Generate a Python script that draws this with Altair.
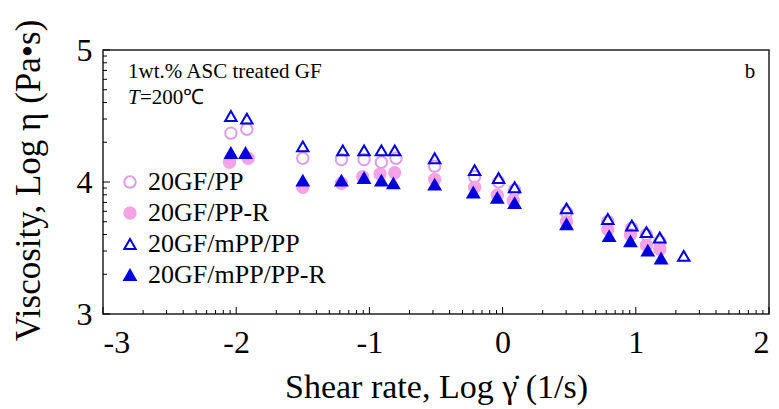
import altair as alt
import pandas as pd
import numpy as np

series_names = ["20GF/PP", "20GF/PP-R", "20GF/mPP/PP", "20GF/mPP/PP-R"]

pp_x = [-2.04, -1.92, -1.50, -1.21, -1.04, -0.91, -0.80, -0.51, -0.21, -0.03, 0.09, 0.48, 0.79, 0.97, 1.08, 1.18]
pp_y = [4.37, 4.40, 4.18, 4.17, 4.17, 4.15, 4.18, 4.12, 4.04, 4.00, 3.94, 3.77, 3.70, 3.65, 3.60, 3.55]

ppr_x = [-2.05, -1.91, -1.50, -1.21, -1.05, -0.92, -0.81, -0.51, -0.21, -0.04, 0.08, 0.48, 0.79, 0.96, 1.08, 1.18]
ppr_y = [4.15, 4.18, 3.96, 3.99, 4.04, 4.06, 4.07, 4.02, 3.96, 3.90, 3.86, 3.70, 3.64, 3.60, 3.52, 3.49]

mpp_x = [-2.04, -1.92, -1.50, -1.20, -1.04, -0.91, -0.81, -0.51, -0.21, -0.03, 0.09, 0.48, 0.79, 0.97, 1.08, 1.18, 1.36]
mpp_y = [4.50, 4.48, 4.27, 4.24, 4.24, 4.24, 4.24, 4.18, 4.09, 4.03, 3.96, 3.80, 3.72, 3.67, 3.62, 3.58, 3.44]

mppr_x = [-2.04, -1.93, -1.50, -1.21, -1.04, -0.91, -0.82, -0.51, -0.22, -0.04, 0.09, 0.48, 0.80, 0.96, 1.09, 1.19]
mppr_y = [4.22, 4.22, 4.01, 4.01, 4.03, 4.01, 3.99, 3.98, 3.92, 3.88, 3.84, 3.68, 3.59, 3.55, 3.48, 3.42]

x_major = [-3, -2, -1, 0, 1, 2]
y_major = [3, 4, 5]
x_minor = [d + np.log10(k) for d in range(-3, 2) for k in range(2, 10)]
y_minor = [d + np.log10(k) for d in range(3, 5) for k in range(2, 10)]

W, H = 666, 264

rows = []
for name, xs, ys in zip(series_names, [pp_x, ppr_x, mpp_x, mppr_x], [pp_y, ppr_y, mpp_y, mppr_y]):
    for a, b in zip(xs, ys):
        rows.append({"series": name, "rate": a, "visc": b})
df = pd.DataFrame(rows)

xscale = alt.Scale(domain=[-3, 2], nice=False, zero=False)
yscale = alt.Scale(domain=[3, 5], nice=False, zero=False)

FONT = "Liberation Serif"

xaxis = alt.Axis(
    values=x_major, labelExpr="'' + datum.value", title="Shear rate, Log γ̇ (1/s)",
    labelPadding=13, titleX=W / 2, titleY=73, titleBaseline="middle", titleAlign="center",
    titleFontSize=34,
)
yaxis = alt.Axis(
    values=y_major, labelExpr="'' + datum.value", title="Viscosity, Log η (Pa•s)",
    labelPadding=11, titleX=-75, titleY=H / 2 - 2, titleBaseline="middle", titleAlign="center",
    titleFontSize=35,
)

legend = alt.Legend(
    title=None, orient="none", legendX=14, legendY=119, padding=0,
    labelFont=FONT, labelFontSize=26, labelColor="black", labelLimit=500,
    symbolSize=130, symbolStrokeWidth=2, rowPadding=5, labelOffset=5,
)

stroke_cols = ["#dc9fe6", "#f4a3e6", "#0000dd", "#0000dd"]
fill_cols = ["rgba(0,0,0,0)", "#f4a3e6", "rgba(0,0,0,0)", "#0000dd"]
shapes = ["circle", "circle", "triangle-up", "triangle-up"]

points = alt.Chart(df).mark_point(opacity=1, strokeWidth=2, size=130).encode(
    x=alt.X("rate:Q", scale=xscale, axis=xaxis),
    y=alt.Y("visc:Q", scale=yscale, axis=yaxis),
    shape=alt.Shape("series:N", scale=alt.Scale(domain=series_names, range=shapes), legend=legend),
    stroke=alt.Stroke("series:N", scale=alt.Scale(domain=series_names, range=stroke_cols), legend=legend),
    fill=alt.Fill("series:N", scale=alt.Scale(domain=series_names, range=fill_cols), legend=legend),
)

def xticks(vals, length):
    return alt.Chart(pd.DataFrame({"rate": vals})).mark_rule(color="black", strokeWidth=1).encode(
        x=alt.X("rate:Q", scale=xscale, axis=xaxis), y=alt.value(H), y2=alt.value(H - length)
    )

def yticks(vals, length):
    return alt.Chart(pd.DataFrame({"visc": vals})).mark_rule(color="black", strokeWidth=1).encode(
        y=alt.Y("visc:Q", scale=yscale, axis=yaxis), x=alt.value(0), x2=alt.value(length)
    )

def note(txt, x, y, align="left", style="normal"):
    return alt.Chart(pd.DataFrame({"t": [txt]})).mark_text(
        align=align, baseline="middle", font=FONT, fontSize=21, fontStyle=style, color="black"
    ).encode(text="t:N", x=alt.value(x), y=alt.value(y))

chart = alt.layer(
    points,
    xticks(x_minor, 4), xticks(x_major, 7),
    yticks(y_minor, 4), yticks(y_major, 7),
    note("1wt.% ASC treated GF", 25, 22),
    note("T", 25, 48, style="italic"),
    note("=200℃", 37, 48),
    note("b", 647, 22, align="center"),
).properties(
    width=W, height=H,
    padding={"left": 103, "top": 50, "right": 10, "bottom": 95},
    autosize=alt.AutoSizeParams(type="none"),
    background="white",
).configure_view(
    stroke="#222", strokeWidth=1.5
).configure_axis(
    labelFont=FONT, titleFont=FONT, labelFontSize=32,
    labelColor="black", titleColor="black", titleFontWeight="normal",
    domain=False, ticks=False, tickSize=0, grid=False,
)

chart.save("out.html", embed_options={"renderer": "svg", "actions": False})
